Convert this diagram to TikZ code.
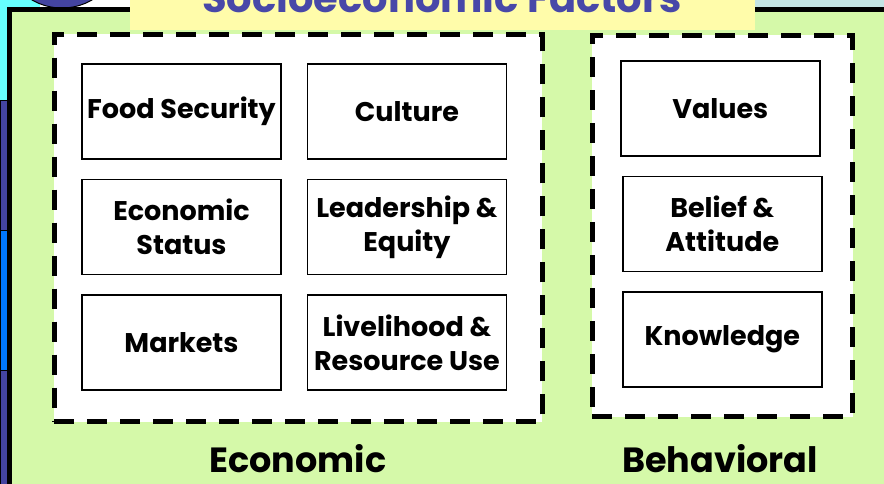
\documentclass[tikz,border=0pt]{standalone}
\usepackage{fontspec}
\setmainfont{Poppins}
\usetikzlibrary{positioning, fit, backgrounds}
\definecolor{panelgreen}{HTML}{D5F9A9}
\definecolor{titleyellow}{HTML}{FFFCAA}
\definecolor{titleblue}{HTML}{4848A8}
\definecolor{edgecyan}{HTML}{66FFFF}
\definecolor{edgeblue}{HTML}{4444A0}
\definecolor{edgebright}{HTML}{0077FF}
\definecolor{edgegrey}{HTML}{C4E4E4}

\begin{document}
\begin{tikzpicture}[
    x=1pt, y=-1pt,
    node distance=19pt and 25pt,
    factor/.style={rectangle, draw, line width=1.4pt, fill=white,
                   minimum width=199pt, minimum height=95pt, align=center,
                   inner sep=1pt, font=\fontsize{27}{34}\selectfont\bfseries},
    group/.style={rectangle, draw, line width=5pt, fill=white,
                  dash pattern=on 20pt off 13pt},
    grouplabel/.style={font=\fontsize{35}{40}\selectfont\bfseries, anchor=base},
  ]
  \useasboundingbox (0,0) rectangle (884,483);
  \clip (0,0) rectangle (884,483);

  % Economic factors
  \node[factor] (food) at (181.5,111.5) {Food Security};
  \node[factor, right=of food] (culture) {Culture};
  \node[factor, below=of food] (status) {Economic\\Status};
  \node[factor, right=of status] (leader) {Leadership \&\\Equity};
  \node[factor, below=of status] (markets) {Markets};
  \node[factor, right=of markets] (livelihood) {Livelihood \&\\Resource Use};

  % Behavioral factors
  \node[factor, right=113pt of culture, yshift=3pt] (values) {Values};
  \node[factor, below=of values, xshift=2pt] (belief) {Belief \&\\Attitude};
  \node[factor, below=of belief] (knowledge) {Knowledge};

  % title
  \node[text=titleblue, font=\fontsize{40}{44}\selectfont\bfseries, anchor=base]
    (title) at (442,12) {Socioeconomic Factors};

  % group labels
  \node[grouplabel] (econlabel) at (298,472) {Economic};
  \node[grouplabel] (behavlabel) at (720,472) {Behavioral};

  \begin{pgfonlayer}{background}
    % slide around the panel
    \fill[white] (0,0) rectangle (884,483);
    \fill[edgecyan] (0,0) rectangle (40,100);
    \filldraw[edgeblue, draw=black] (0,100) rectangle (7,230);
    \filldraw[edgebright, draw=black] (0,230) rectangle (7,370);
    \filldraw[edgeblue, draw=black] (0,370) rectangle (7,490);
    \filldraw[edgeblue, draw=black, line width=1pt] (62,-52) circle (60);
    \fill[edgegrey] (750,0) rectangle (884,10);
    % panel
    \filldraw[panelgreen, draw=black, line width=5pt] (9.5,9.5) rectangle (900,500);
    \fill[titleyellow] (130,-5) rectangle (755,30);
    % dashed groups
    \node[group, fit=(food)(livelihood), inner xsep=31pt, inner ysep=30pt,
          xshift=4pt, yshift=-1pt] (econ) {};
    \node[group, fit=(values)(knowledge), inner xsep=29pt, inner ysep=27pt,
          xshift=1pt, yshift=-2pt] (behav) {};
  \end{pgfonlayer}
\end{tikzpicture}
\end{document}
